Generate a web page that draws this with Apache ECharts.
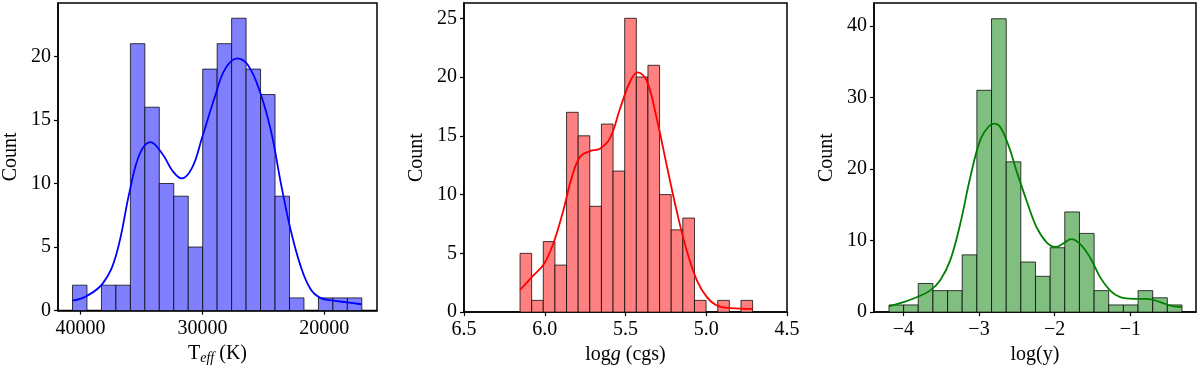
<!DOCTYPE html>
<html>
<head>
<meta charset="utf-8">
<script src="https://cdn.jsdelivr.net/npm/echarts@6/dist/echarts.min.js"></script>
<style>html,body{margin:0;padding:0;background:#fff}#c{width:1200px;height:370px}</style>
</head>
<body>
<div id="c"></div>
<script>
// ---- Panel 1: Teff histogram ----
const teffEdges = [40648, 39462, 38276, 37090, 35904, 34718, 33532, 32346, 31160, 29974, 28788, 27602, 26416, 25230, 24044, 22858, 21672, 20486, 19300, 18114, 16928];
const teffCounts = [2, 0, 2, 2, 21, 16, 10, 9, 5, 19, 21, 23, 19, 17, 9, 1, 0, 1, 1, 1];
const teffKdeX = [40647, 39461, 38113, 37036, 35958, 35149, 34260, 33263, 32454, 31700, 30837, 30029, 28951, 28142, 27145, 26256, 25312, 24369, 23561, 22752, 21944, 21135, 20326, 19248, 18170, 16957];
const teffKdeY = [0.78, 1.16, 2.2, 4.5, 9.4, 12.3, 13.25, 12.3, 11.0, 10.4, 11.25, 13.6, 16.9, 19.0, 19.85, 19.3, 17.3, 14.1, 10.0, 6.3, 3.5, 1.7, 1.0, 0.78, 0.65, 0.5];
const teffTicks = [40000, 30000, 20000];
const teffYTicks = [0, 5, 10, 15, 20];

// ---- Panel 2: logg histogram ----
const loggEdges = [6.153, 6.081, 6.009, 5.937, 5.865, 5.793, 5.721, 5.649, 5.577, 5.505, 5.433, 5.361, 5.289, 5.217, 5.145, 5.073, 5.001, 4.929, 4.857, 4.785, 4.713];
const loggCounts = [5, 1, 6, 4, 17, 15, 9, 16, 12, 25, 20, 21, 10, 7, 8, 1, 0, 1, 0, 1];
const loggKdeX = [6.153, 6.072, 6.006, 5.948, 5.886, 5.834, 5.782, 5.720, 5.658, 5.596, 5.534, 5.472, 5.425, 5.369, 5.307, 5.245, 5.183, 5.120, 5.058, 4.996, 4.934, 4.852, 4.713];
const loggKdeY = [1.89, 3.1, 4.08, 5.8, 8.6, 11.4, 13.2, 13.7, 13.9, 14.8, 17.3, 19.6, 20.4, 19.7, 16.5, 12.5, 8.6, 5.2, 2.7, 1.27, 0.56, 0.34, 0.28];
const loggTicks = [6.5, 6.0, 5.5, 5.0, 4.5];
const loggYTicks = [0, 5, 10, 15, 20, 25];

// ---- Panel 3: log(y) histogram ----
const logyEdges = [-4.190, -3.996, -3.803, -3.609, -3.415, -3.222, -3.028, -2.834, -2.640, -2.447, -2.253, -2.059, -1.866, -1.672, -1.478, -1.285, -1.091, -0.897, -0.703, -0.510, -0.316];
const logyCounts = [1, 1, 4, 3, 3, 8, 31, 41, 21, 7, 5, 9, 14, 11, 3, 1, 1, 3, 2, 1];
const logyKdeX = [-4.190, -4.000, -3.824, -3.647, -3.515, -3.382, -3.250, -3.118, -2.985, -2.875, -2.796, -2.721, -2.610, -2.500, -2.368, -2.236, -2.103, -1.993, -1.883, -1.781, -1.662, -1.530, -1.397, -1.265, -1.133, -0.956, -0.780, -0.603, -0.471, -0.317];
const logyKdeY = [0.79, 1.39, 2.08, 3.0, 4.4, 7.2, 12.25, 18.7, 24.0, 25.9, 26.35, 25.9, 23.3, 19.6, 15.5, 11.8, 9.7, 9.1, 9.6, 10.2, 9.5, 7.6, 4.85, 3.0, 2.08, 1.85, 1.85, 1.39, 0.92, 0.69];
const logyTicks = [-4, -3, -2, -1];
const logyYTicks = [0, 10, 20, 30, 40];

const FONT = 'Liberation Serif';

function binData(edges, counts) {
  const out = [];
  for (let i = 0; i < counts.length; i++) out.push([edges[i], edges[i + 1], counts[i]]);
  return out;
}
function pairs(xs, ys) { return xs.map((x, i) => [x, ys[i]]); }

function renderBar(fill) {
  return function (params, api) {
    const h = api.value(2);
    if (!h) return null;
    const p0 = api.coord([api.value(0), h]);
    const p1 = api.coord([api.value(1), 0]);
    const x = Math.min(p0[0], p1[0]);
    const w = Math.abs(p1[0] - p0[0]);
    return {
      type: 'rect',
      shape: { x: x, y: p0[1], width: w, height: p1[1] - p0[1] },
      style: { fill: fill, stroke: 'rgba(0,0,0,0.75)', lineWidth: 1 }
    };
  };
}

const axisLine = { show: true, lineStyle: { color: '#000', width: 1.5 } };
const tickStyle = { lineStyle: { color: '#000', width: 1.2 }, length: 4 };
const labelBase = { color: '#000', fontFamily: FONT, fontSize: 20 };

function xAxisDef(idx, min, max, ticks, inverse, name, rich, fmt) {
  return {
    type: 'value', gridIndex: idx, min: min, max: max, inverse: inverse,
    axisLine: axisLine,
    axisTick: Object.assign({ show: true, customValues: ticks }, tickStyle),
    axisLabel: Object.assign({ customValues: ticks, margin: 8, formatter: fmt }, labelBase),
    splitLine: { show: false },
    name: name, nameLocation: 'middle', nameGap: 30,
    nameTextStyle: { color: '#000', fontFamily: FONT, fontSize: 20, rich: rich }
  };
}
function yAxisDef(idx, max, ticks) {
  return {
    type: 'value', gridIndex: idx, min: 0, max: max,
    axisLine: axisLine,
    axisTick: Object.assign({ show: true, customValues: ticks }, tickStyle),
    axisLabel: Object.assign({ customValues: ticks, margin: 7 }, labelBase),
    splitLine: { show: false },
    name: 'Count', nameLocation: 'middle', nameGap: 37,
    nameTextStyle: { color: '#000', fontFamily: FONT, fontSize: 20 }
  };
}

const richA = { fontFamily: FONT, fontSize: 20, color: '#000' };
const teffRich = {
  a: richA,
  s: { fontFamily: FONT, fontSize: 14, fontStyle: 'italic', color: '#000', padding: [9, 0, 0, 0] }
};
const loggRich = {
  a: richA,
  i: { fontFamily: FONT, fontSize: 20, fontStyle: 'italic', color: '#000' }
};

const gridBase = { show: true, borderColor: '#000', borderWidth: 1.5, top: 3, bottom: 55, containLabel: false };

const option = {
  animation: false,
  backgroundColor: '#fff',
  grid: [
    Object.assign({ left: 54, right: 823 }, gridBase),
    Object.assign({ left: 464, right: 413 }, gridBase),
    Object.assign({ left: 874, right: 4 }, gridBase)
  ],
  xAxis: [
    xAxisDef(0, 15684, 41838, teffTicks, true, '{a|T}{s|eff}{a| (K)}', teffRich, v => String(v)),
    xAxisDef(1, 4.5, 6.5, loggTicks, true, '{a|log}{i|g}{a| (cgs)}', loggRich, v => Number(v).toFixed(1)),
    xAxisDef(2, -4.388, -0.131, logyTicks, false, 'log(y)', null, v => (v < 0 ? '\u2212' + Math.abs(v) : String(v)))
  ],
  yAxis: [
    yAxisDef(0, 24.2, teffYTicks),
    yAxisDef(1, 26.3, loggYTicks),
    yAxisDef(2, 43.2, logyYTicks)
  ],
  series: [
    { type: 'custom', xAxisIndex: 0, yAxisIndex: 0, renderItem: renderBar('#8080ff'), data: binData(teffEdges, teffCounts), encode: { x: [0, 1], y: 2 }, clip: true },
    { type: 'line', xAxisIndex: 0, yAxisIndex: 0, data: pairs(teffKdeX, teffKdeY), smooth: 0.4, showSymbol: false, lineStyle: { color: '#0000ff', width: 1.8 }, z: 5 },
    { type: 'custom', xAxisIndex: 1, yAxisIndex: 1, renderItem: renderBar('#ff8080'), data: binData(loggEdges, loggCounts), encode: { x: [0, 1], y: 2 }, clip: true },
    { type: 'line', xAxisIndex: 1, yAxisIndex: 1, data: pairs(loggKdeX, loggKdeY), smooth: 0.4, showSymbol: false, lineStyle: { color: '#ff0000', width: 1.8 }, z: 5 },
    { type: 'custom', xAxisIndex: 2, yAxisIndex: 2, renderItem: renderBar('#80bf80'), data: binData(logyEdges, logyCounts), encode: { x: [0, 1], y: 2 }, clip: true },
    { type: 'line', xAxisIndex: 2, yAxisIndex: 2, data: pairs(logyKdeX, logyKdeY), smooth: 0.4, showSymbol: false, lineStyle: { color: '#008000', width: 1.8 }, z: 5 }
  ]
};

const chart = echarts.init(document.getElementById('c'), null, { renderer: 'canvas' });
chart.setOption(option);
</script>
</body>
</html>
